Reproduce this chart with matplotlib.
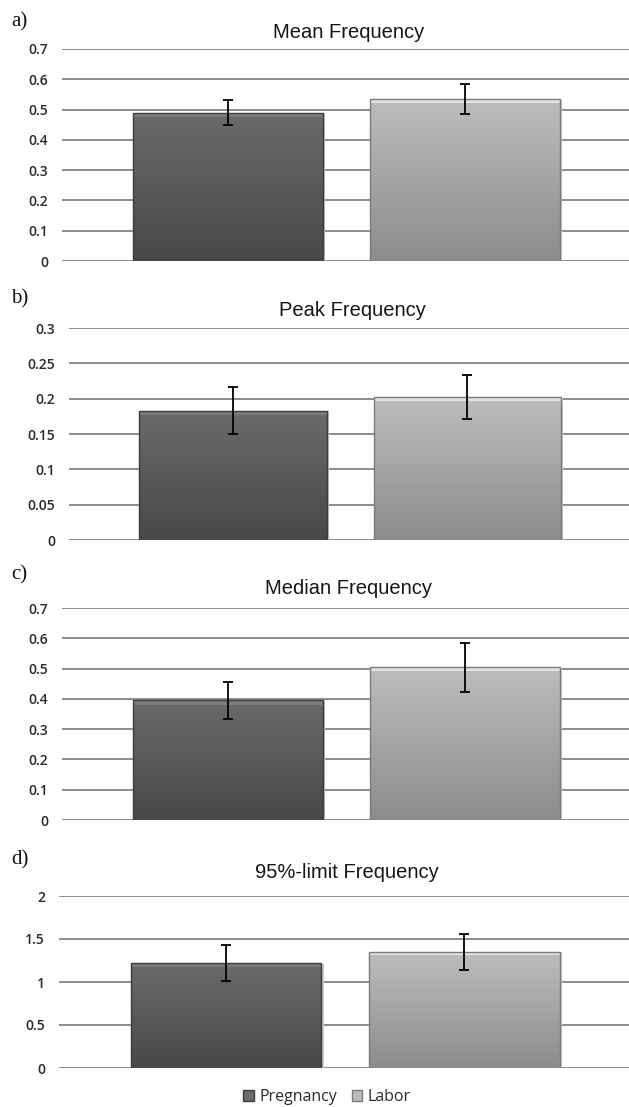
import matplotlib
matplotlib.use("Agg")
import matplotlib.pyplot as plt
import numpy as np
from matplotlib.patches import Rectangle

# data
groups = ["Pregnancy", "Labor"]
panel_letters = ["a)", "b)", "c)", "d)"]
titles = ["Mean Frequency", "Peak Frequency", "Median Frequency", "95%-limit Frequency"]
means_pregnancy = [0.49, 0.183, 0.395, 1.22]
means_labor = [0.535, 0.202, 0.505, 1.35]
err_pregnancy = [0.041, 0.033, 0.061, 0.21]
err_labor = [0.049, 0.031, 0.081, 0.21]
y_ticks = [
    [0, 0.1, 0.2, 0.3, 0.4, 0.5, 0.6, 0.7],
    [0, 0.05, 0.1, 0.15, 0.2, 0.25, 0.3],
    [0, 0.1, 0.2, 0.3, 0.4, 0.5, 0.6, 0.7],
    [0, 0.5, 1, 1.5, 2],
]
y_ticklabels = [
    ["0", "0.1", "0.2", "0.3", "0.4", "0.5", "0.6", "0.7"],
    ["0", "0.05", "0.1", "0.15", "0.2", "0.25", "0.3"],
    ["0", "0.1", "0.2", "0.3", "0.4", "0.5", "0.6", "0.7"],
    ["0", "0.5", "1", "1.5", "2"],
]

# layout (pixels) and styling
W, H = 629, 1107
axes_px = [(62, 49, 261), (69, 328, 540), (62, 608, 820), (59, 896, 1068)]  # left, top, bottom
title_y = [32, 310, 589, 872]
letter_y = [22, 299, 575, 860]
grad_colors = [("#6a6a6a", "#484848"), ("#bdbdbd", "#8c8c8c")]
bevel_colors = ["#7c7c7c", "#e2e2e2"]
edge_colors = ["#3c3c3c", "#7a7a7a"]
tick_font = ["Open Sans", "DejaVu Sans"]
title_font = ["Liberation Sans Narrow", "Liberation Sans", "DejaVu Sans"]

fig = plt.figure(figsize=(W / 100, H / 100), dpi=100)


def gradient_bar(ax, x, height, width, top_c, bot_c, bevel_c, edge_c):
    rect = Rectangle((x - width / 2, 0), width, height, facecolor="none",
                     edgecolor=edge_c, linewidth=1.0, zorder=3)
    ax.add_patch(rect)
    c1 = np.array(matplotlib.colors.to_rgb(top_c))
    c2 = np.array(matplotlib.colors.to_rgb(bot_c))
    t = np.linspace(0, 1, 128)[:, None]
    img = (c1 * (1 - t) + c2 * t)[:, None, :]
    im = ax.imshow(img, extent=(x - width / 2, x + width / 2, 0, height),
                   aspect="auto", origin="upper", zorder=2)
    im.set_clip_path(rect)
    # top bevel highlight
    ylo, yhi = ax.get_ylim()
    bev = (yhi - ylo) * 0.02
    ax.add_patch(Rectangle((x - width / 2, height - bev), width, bev,
                           facecolor=bevel_c, edgecolor="none", zorder=2.5))
    # soft shadow on the right
    ax.add_patch(Rectangle((x + width / 2, 0), width * 0.012, height * 0.995,
                           facecolor="#c8c8c8", edgecolor="none", zorder=1.5))


for i in range(4):
    left, top, bottom = axes_px[i]
    ax = fig.add_axes([left / W, 1 - bottom / H, 1 - left / W, (bottom - top) / H])
    ax.set_xlim(-0.7, 1.69)
    ax.set_ylim(0, y_ticks[i][-1])
    vals = [means_pregnancy[i], means_labor[i]]
    errs = [err_pregnancy[i], err_labor[i]]
    for j in range(2):
        gradient_bar(ax, j, vals[j], 0.8, grad_colors[j][0], grad_colors[j][1],
                     bevel_colors[j], edge_colors[j])
    ax.errorbar([0, 1], vals, yerr=errs, fmt="none", ecolor="black",
                elinewidth=1.3, capsize=3.5, capthick=1.3, zorder=4)
    ax.set_yticks(y_ticks[i])
    ax.set_yticklabels(y_ticklabels[i], family=tick_font, fontsize=10,
                       fontweight="semibold", color="#2a2a2a")
    ax.set_xticks([])
    ax.tick_params(axis="y", length=0, pad=10)
    for y in y_ticks[i]:
        ax.axhline(y, color="#8c8c8c", linewidth=1.4, zorder=1)
    for s in ax.spines.values():
        s.set_visible(False)
    ax.set_facecolor("white")
    fig.text(0.5 * (1 + left / W) + 0.005, 1 - title_y[i] / H, titles[i],
             family=title_font, fontsize=14.5, ha="center", va="center", color="#161616")
    fig.text(11 / W, 1 - letter_y[i] / H, panel_letters[i],
             family=["Liberation Serif", "DejaVu Serif"], fontsize=15,
             ha="left", va="center", color="#111111")

handles = [Rectangle((0, 0), 1, 1, facecolor=grad_colors[j][0], edgecolor=edge_colors[j])
           for j in range(2)]
fig.legend(handles, groups, loc="center", bbox_to_anchor=(0.52, 1 - 1097 / H),
           ncol=2, frameon=False, prop={"family": tick_font, "size": 11.5},
           handlelength=0.65, handleheight=0.65, handletextpad=0.35, columnspacing=0.9,
           labelcolor="#2a2a2a")

fig.savefig("out.png", dpi=100, facecolor="white")
